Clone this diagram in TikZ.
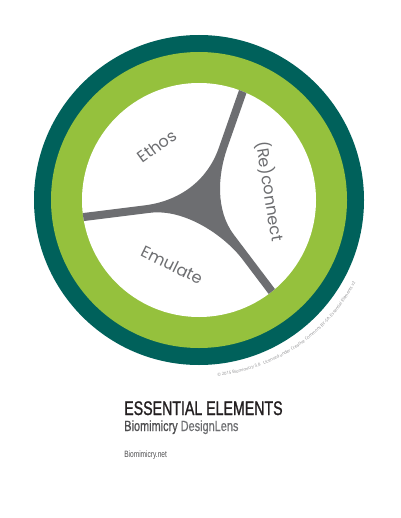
\documentclass[tikz,border=0pt]{standalone}
\usepackage{fontspec}
\usetikzlibrary{decorations.text}
\newfontfamily\ringfont{Poppins}
\newfontfamily\condfont[FakeStretch=0.72]{Liberation Sans}
\newfontfamily\heavycond[FakeStretch=0.72, FakeBold=1.2]{Liberation Sans}
\newfontfamily\midcond[FakeStretch=0.74, FakeBold=0.6]{Liberation Sans}
\newfontfamily\notefont{Open Sans}
\definecolor{ringteal}{HTML}{00615B}
\definecolor{ringgreen}{HTML}{95C13D}
\definecolor{ygray}{HTML}{6D6E71}
\definecolor{titleblack}{HTML}{231F20}
\definecolor{biogray}{HTML}{4D4D4F}
\definecolor{lensgray}{HTML}{6D6E71}
\definecolor{notegray}{HTML}{8A8A8C}

\begin{document}
\begin{tikzpicture}[x=0.025cm, y=-0.025cm]
  \tikzstyle{ringlabel} = [font=\ringfont\fontsize{11.5}{11.5}\selectfont, text=ygray, inner sep=0pt]
  \tikzstyle{caption} = [anchor=base west, inner sep=0pt]
  \useasboundingbox (0,0) rectangle (400,518);
  \coordinate (c) at (199,200);
  \fill[ringteal] (c) circle[radius=165];
  \fill[ringgreen] (c) circle[radius=148];
  \fill[white] (c) circle[radius=117];
  % the three arms
  \begin{scope}
    \clip (c) circle[radius=117];
    \fill[ygray] (70.6,214.6) -- (144.5,205.4)
      .. controls (179.2,201.1) and (207.1,181.1) .. (218.7,148.1)
      -- (243.5,77.3) -- (251.1,79.9) -- (227.3,147.8)
      .. controls (217.4,176.1) and (215.8,210.9) .. (233.9,234.8)
      -- (282.2,298.6) -- (275.8,303.4) -- (242.6,259.5)
      .. controls (224.5,235.6) and (184.7,208.5) .. (150,212.8)
      -- (71.6,222.6) -- cycle;
  \end{scope}
  \node (ethos) [ringlabel, rotate=36] at (157,146) {Ethos};
  \node (reconnect) [ringlabel, rotate=-81] at (270,191) {(Re)connect};
  \node (emulate) [ringlabel, rotate=-26] at (172,265) {Emulate};
  % licence line round the rim
  \path[decorate, decoration={text along path,
      text={|\notefont\fontsize{3}{3}\selectfont\color{notegray}|© 2015 Biomimicry 3.8 {} {} Licensed under Creative Commons BY-SA. Essential Elements v2}}]
    (c) ++(84:177) arc[start angle=84, end angle=24, radius=177];
  \node (title) [caption, font=\heavycond\fontsize{14}{14}\selectfont, text=titleblack] at (124,415) {ESSENTIAL ELEMENTS};
  \node (subtitle) [caption, font=\midcond\fontsize{10.5}{10.5}\selectfont] at (124,431) {\color{biogray}Biomimicry \color{lensgray}DesignLens};
  \node (website) [caption, font=\condfont\fontsize{6.5}{6.5}\selectfont, text=biogray] at (124,457) {Biomimicry.net};
\end{tikzpicture}
\end{document}
